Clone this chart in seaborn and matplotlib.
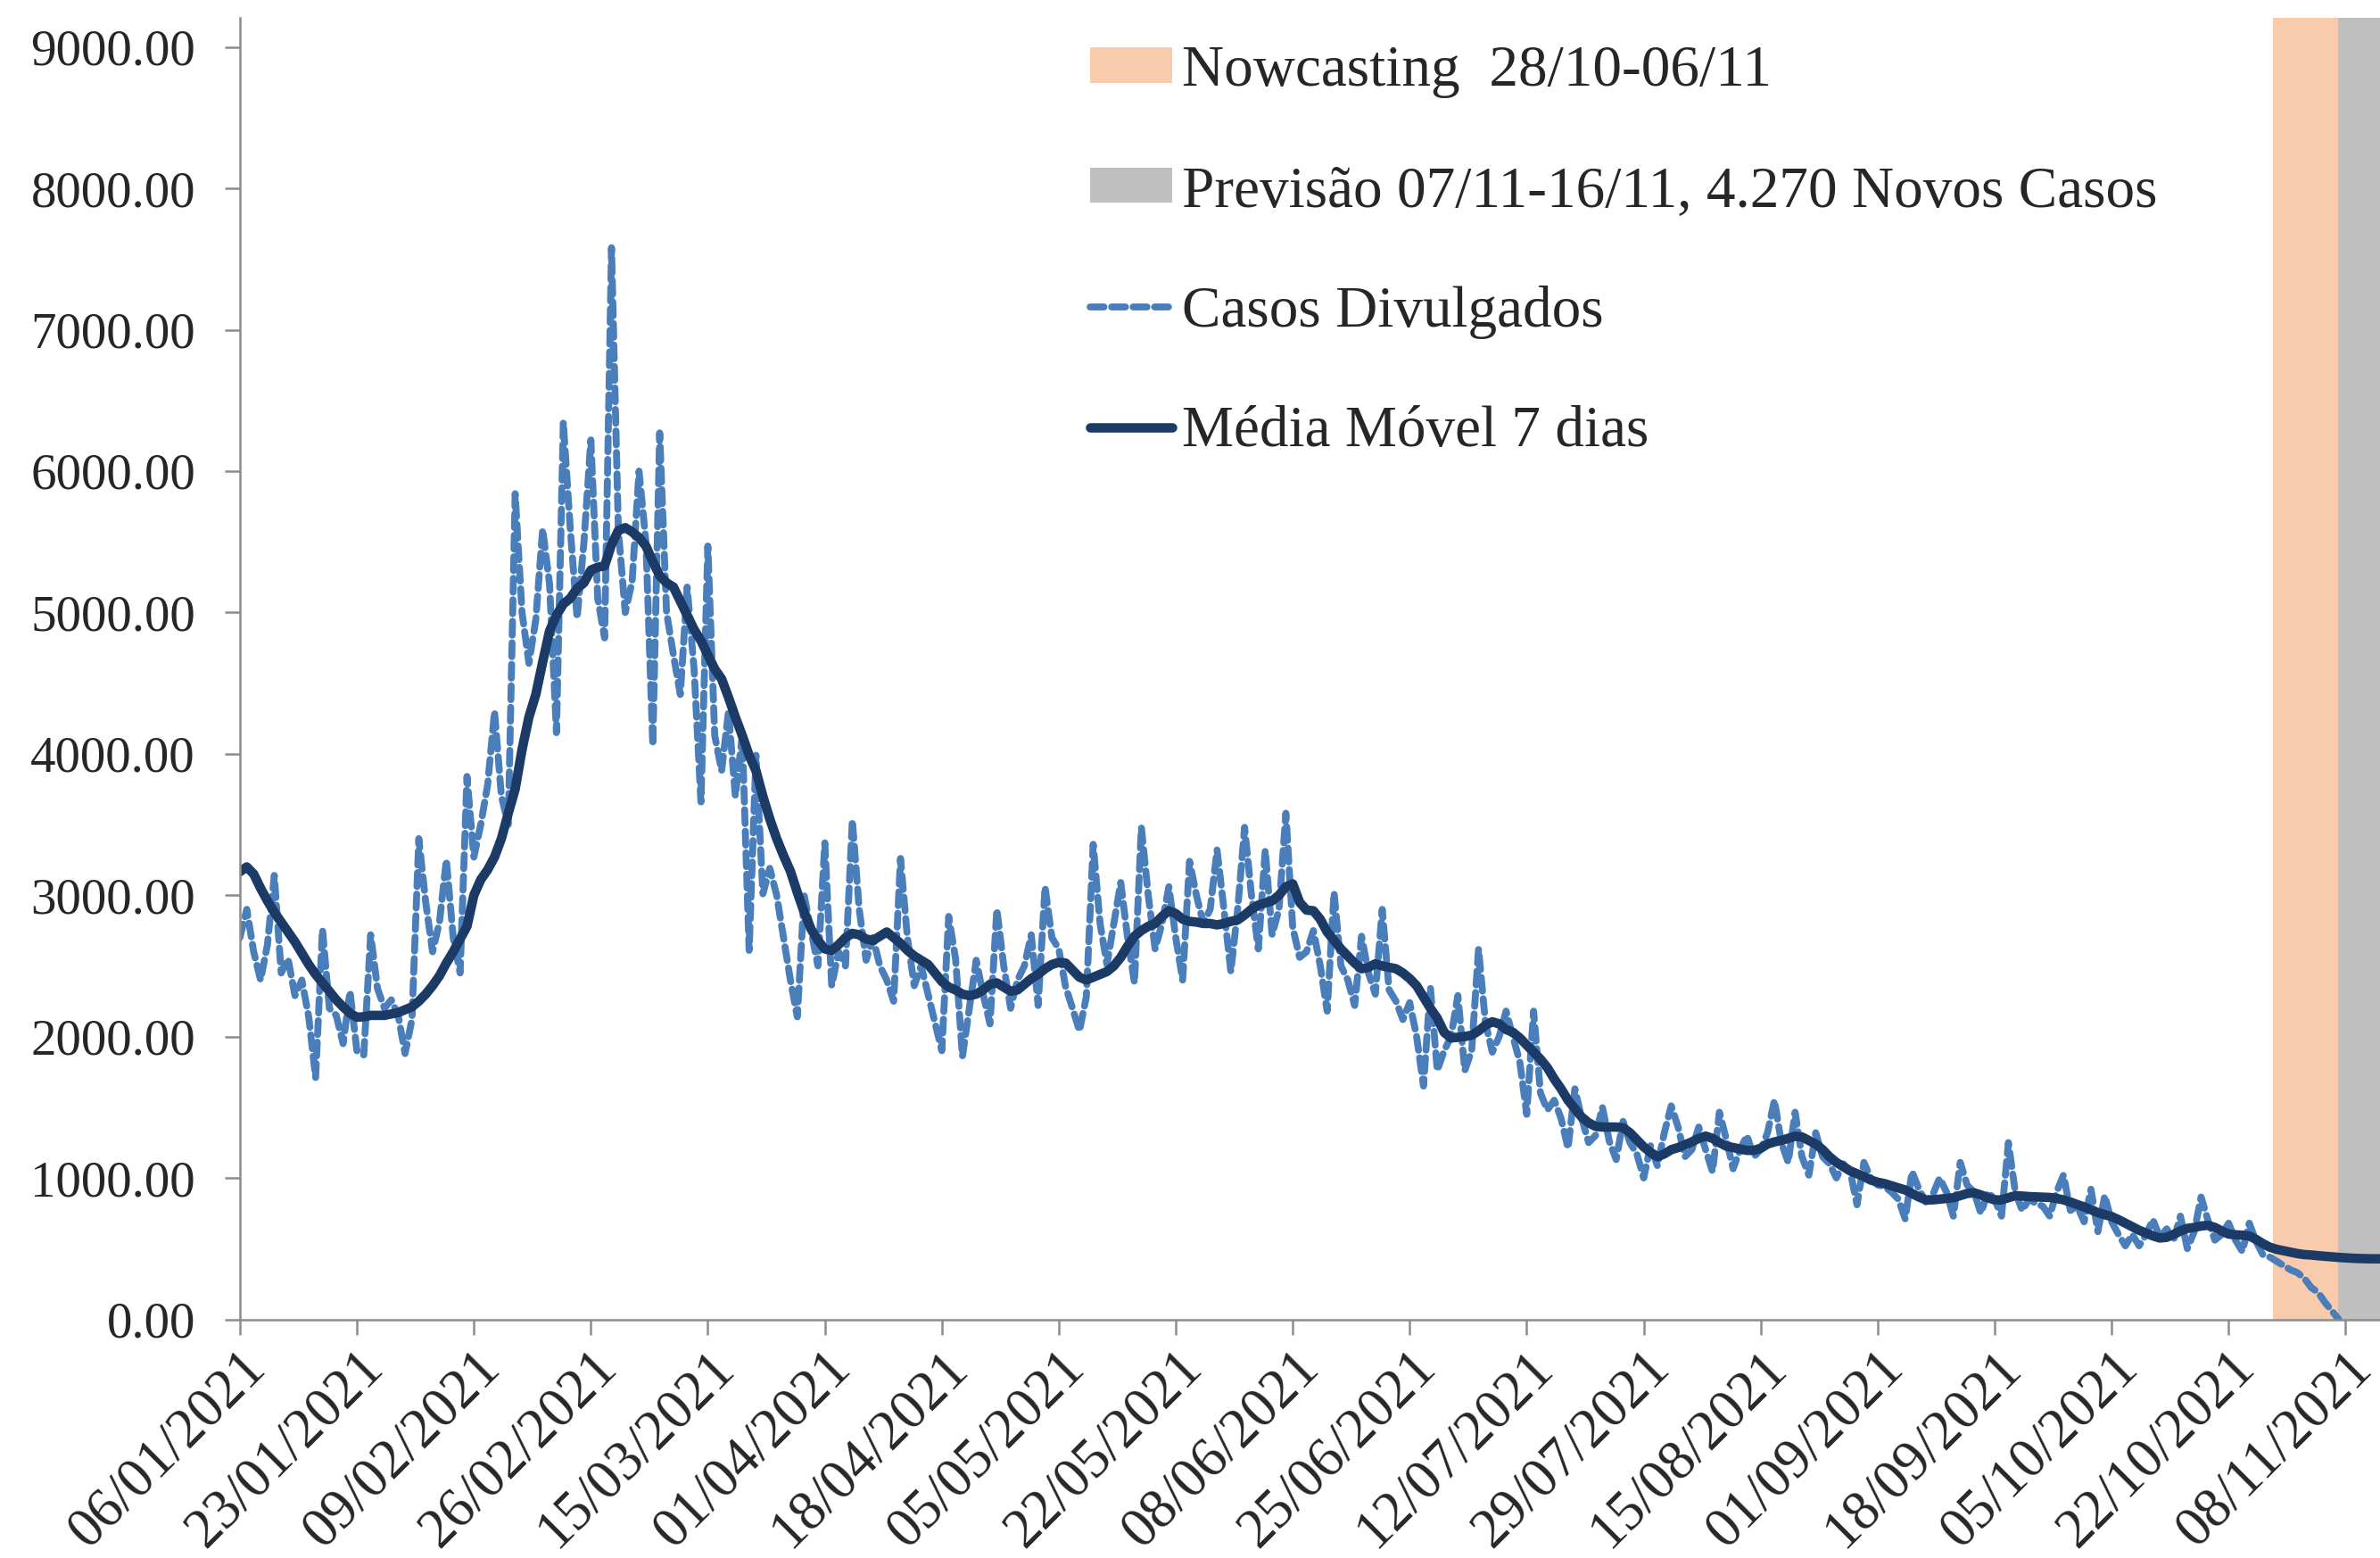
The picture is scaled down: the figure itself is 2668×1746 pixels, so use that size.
import pandas as pd
import numpy as np
import matplotlib
matplotlib.use("Agg")
import matplotlib.pyplot as plt
import matplotlib.dates as mdates
from matplotlib.patches import Patch
from matplotlib.lines import Line2D
from matplotlib.ticker import FuncFormatter
import seaborn as sns

# Dados diarios a partir de 06/01/2021
inicio = "2021-01-06"

casos = [
    2700, 2900, 2600, 2400, 2650, 3140, 2450,
    2550, 2290, 2400, 2140, 1710, 2760, 2200,
    2150, 1950, 2320, 1900, 1870, 2720, 2340,
    2200, 2260, 2150, 1880, 2120, 3400, 2950,
    2600, 2810, 3250, 2700, 2450, 3840, 3270,
    3500, 3780, 4300, 3700, 3500, 5840, 5000,
    4640, 4950, 5590, 5200, 4150, 6345, 5600,
    4960, 5500, 6220, 5100, 4820, 7580, 5580,
    5000, 5220, 6000, 5500, 4060, 6270, 5000,
    4700, 4420, 5180, 4600, 3660, 5470, 4130,
    3880, 4300, 3700, 4130, 2610, 3990, 3010,
    3190, 3000, 2700, 2400, 2140, 3000, 2750,
    2500, 3370, 2360, 2600, 2500, 3530, 2900,
    2540, 2700, 2500, 2400, 2250, 3260, 2700,
    2360, 2500, 2300, 2100, 1900, 2850, 2550,
    1860, 2200, 2540, 2300, 2090, 2900, 2500,
    2200, 2400, 2500, 2720, 2220, 3060, 2700,
    2620, 2350, 2200, 2040, 2280, 3360, 2800,
    2510, 2800, 3090, 2700, 2380, 3480, 3000,
    2620, 2800, 3060, 2700, 2400, 3240, 3000,
    2800, 2900, 3320, 2900, 2460, 2900, 3480,
    3000, 2620, 3320, 2720, 2900, 3580, 2770,
    2560, 2600, 2750, 2500, 2180, 3020, 2500,
    2400, 2220, 2710, 2450, 2300, 2900, 2330,
    2250, 2120, 2240, 2000, 1650, 2350, 1760,
    1900, 2000, 2290, 1760, 1900, 2620, 2100,
    1890, 2000, 2180, 2000, 1820, 1450, 2180,
    1600, 1480, 1550, 1420, 1210, 1630, 1420,
    1250, 1300, 1500, 1260, 1130, 1400, 1250,
    1170, 1000, 1230, 1085, 1320, 1510, 1360,
    1150, 1200, 1360, 1200, 1045, 1465, 1275,
    1065, 1200, 1300, 1150, 1200, 1320, 1550,
    1250, 1110, 1465, 1150, 1020, 1320, 1150,
    1100, 1000, 1100, 1050, 810, 1110, 1000,
    950, 940, 900, 850, 710, 1045, 920,
    830, 880, 1000, 900, 730, 1110, 950,
    900, 750, 900, 850, 730, 1250, 900,
    770, 850, 820, 800, 730, 900, 1020,
    770, 800, 690, 920, 620, 875, 690,
    600, 520, 600, 520, 600, 705, 580,
    640, 560, 730, 500, 620, 865, 700,
    560, 600, 680, 560, 480, 680, 550,
    455, 440, 410, 380, 350, 330, 290,
    225, 190, 120, 60, 0,
]

media_movel = [
    3166, 3200, 3150, 3050, 2960, 2880, 2810,
    2740, 2670, 2590, 2510, 2440, 2380, 2320,
    2260, 2210, 2165, 2137, 2140, 2150, 2150,
    2150, 2160, 2170, 2190, 2210, 2250, 2300,
    2360, 2430, 2520, 2600, 2690, 2780, 3000,
    3110, 3180, 3270, 3400, 3580, 3750, 4030,
    4260, 4420, 4650, 4870, 4980, 5060, 5100,
    5170, 5210, 5300, 5320, 5330, 5480, 5580,
    5600, 5570, 5530, 5470, 5360, 5260, 5210,
    5180, 5080, 4980, 4880, 4800, 4700, 4600,
    4530, 4400, 4260, 4130, 3990, 3880, 3700,
    3540, 3400, 3280, 3170, 3020, 2880, 2760,
    2680, 2620, 2610, 2650, 2700, 2730, 2720,
    2690, 2680, 2710, 2740, 2700, 2660, 2610,
    2570, 2540, 2510, 2450, 2390, 2350, 2330,
    2300, 2290, 2300, 2330, 2370, 2380, 2350,
    2320, 2330, 2370, 2410, 2440, 2480, 2510,
    2525, 2520, 2470, 2420, 2400, 2420, 2440,
    2460, 2500, 2560, 2640, 2710, 2750, 2780,
    2800, 2850, 2890, 2870, 2830, 2815, 2810,
    2800, 2800, 2790, 2800, 2815, 2825, 2860,
    2900, 2930, 2945, 2960, 3000, 3060, 3080,
    2950, 2895, 2890, 2830, 2740, 2680, 2620,
    2570, 2520, 2480, 2490, 2515, 2500, 2490,
    2480, 2450, 2410, 2360, 2280, 2200, 2130,
    2030, 1990, 1995, 2000, 2010, 2040, 2080,
    2105, 2090, 2050, 2030, 1990, 1940, 1890,
    1840, 1780, 1700, 1630, 1550, 1490, 1430,
    1390, 1365, 1360, 1360, 1360, 1355, 1320,
    1270, 1220, 1180, 1150, 1170, 1200, 1215,
    1235, 1255, 1280, 1296, 1280, 1250, 1225,
    1215, 1205, 1195, 1195, 1210, 1240, 1255,
    1265, 1280, 1295, 1290, 1265, 1240, 1200,
    1150, 1110, 1080, 1050, 1030, 1010, 985,
    970, 960, 945, 930, 915, 890, 865,
    845, 845, 850, 855, 860, 875, 890,
    895, 880, 860, 845, 845, 860, 875,
    872, 868, 866, 864, 862, 855, 845,
    830, 812, 795, 775, 755, 740, 727,
    705, 680, 655, 630, 610, 590, 575,
    580, 600, 625, 643, 650, 660, 665,
    650, 625, 603, 598, 595, 590, 565,
    535, 510, 495, 485, 475, 465, 458,
    455, 450, 446, 442, 438, 435, 432,
    430, 429, 428, 428, 428,
]

# faixas de nowcasting e previsao
nowcast_inicio = "2021-10-28 12:00"
nowcast_fim = "2021-11-06 22:00"
previsao_fim = "2021-11-16"
x_fim = "2021-11-13"

tick_datas = pd.date_range(inicio, "2021-11-08", freq="17D")
y_ticks = np.arange(0, 9001, 1000)

rotulos = [
    "Nowcasting  28/10-06/11",
    "Previsão 07/11-16/11, 4.270 Novos Casos",
    "Casos Divulgados",
    "Média Móvel 7 dias",
]

cor_casos = "#4a7ebb"
cor_mm = "#1c3a66"
cor_nowcast = "#f8cbad"
cor_previsao = "#bfbfbf"

df_casos = pd.DataFrame({
    "data": pd.date_range(inicio, periods=len(casos), freq="D"),
    "casos": casos,
})
df_mm = pd.DataFrame({
    "data": pd.date_range(inicio, periods=len(media_movel), freq="D"),
    "media": media_movel,
})

sns.set_style("ticks")
plt.rcParams["font.family"] = ["Liberation Serif", "DejaVu Serif"]

fig = plt.figure(figsize=(13.34, 8.73), dpi=200)
ax = fig.add_axes([0.1008, 0.1532, 0.8992, 0.8354])

ax.axvspan(pd.Timestamp(nowcast_inicio), pd.Timestamp(nowcast_fim),
           color=cor_nowcast, lw=0, zorder=0)
ax.axvspan(pd.Timestamp(nowcast_fim), pd.Timestamp(previsao_fim),
           color=cor_previsao, lw=0, zorder=0)

sns.lineplot(data=df_casos, x="data", y="casos", ax=ax, color=cor_casos,
             lw=2.8, legend=False)
linha_casos = ax.lines[-1]
linha_casos.set_dashes((2.0, 1.1))
linha_casos.set_dash_capstyle("round")

sns.lineplot(data=df_mm, x="data", y="media", ax=ax, color=cor_mm,
             lw=3.8, legend=False)

ax.set_xlim(pd.Timestamp(inicio), pd.Timestamp(x_fim))
ax.set_ylim(0, 9207)
ax.set_xlabel("")
ax.set_ylabel("")

ax.set_xticks(tick_datas)
ax.xaxis.set_major_formatter(mdates.DateFormatter("%d/%m/%Y"))
ax.set_yticks(y_ticks)
ax.yaxis.set_major_formatter(FuncFormatter(lambda v, p: f"{v:.2f}"))

for s in ["top", "right"]:
    ax.spines[s].set_visible(False)
for s in ["left", "bottom"]:
    ax.spines[s].set_color("#8c8c8c")
    ax.spines[s].set_linewidth(0.9)

ax.tick_params(axis="both", direction="out", length=6, width=0.9, color="#8c8c8c")
ax.tick_params(axis="y", labelsize=20.5, pad=12)
ax.tick_params(axis="x", labelsize=22.5, pad=3)
for lab in ax.get_xticklabels():
    lab.set_rotation(45)
    lab.set_ha("right")
    lab.set_va("top")
    lab.set_rotation_mode("anchor")

handles = [
    Patch(facecolor=cor_nowcast, edgecolor="none"),
    Patch(facecolor=cor_previsao, edgecolor="none"),
    Line2D([], [], color=cor_casos, lw=2.8, dashes=(2.0, 1.1), dash_capstyle="round"),
    Line2D([], [], color=cor_mm, lw=3.8),
]
ax.legend(handles, rotulos, loc="upper left", bbox_to_anchor=(0.458, 0.971),
          bbox_transform=fig.transFigure, frameon=False, fontsize=23.5,
          handlelength=1.41, handleheight=0.55, handletextpad=0.17,
          labelspacing=1.15, borderpad=0, borderaxespad=0)

fig.savefig("out.png", dpi=200)
